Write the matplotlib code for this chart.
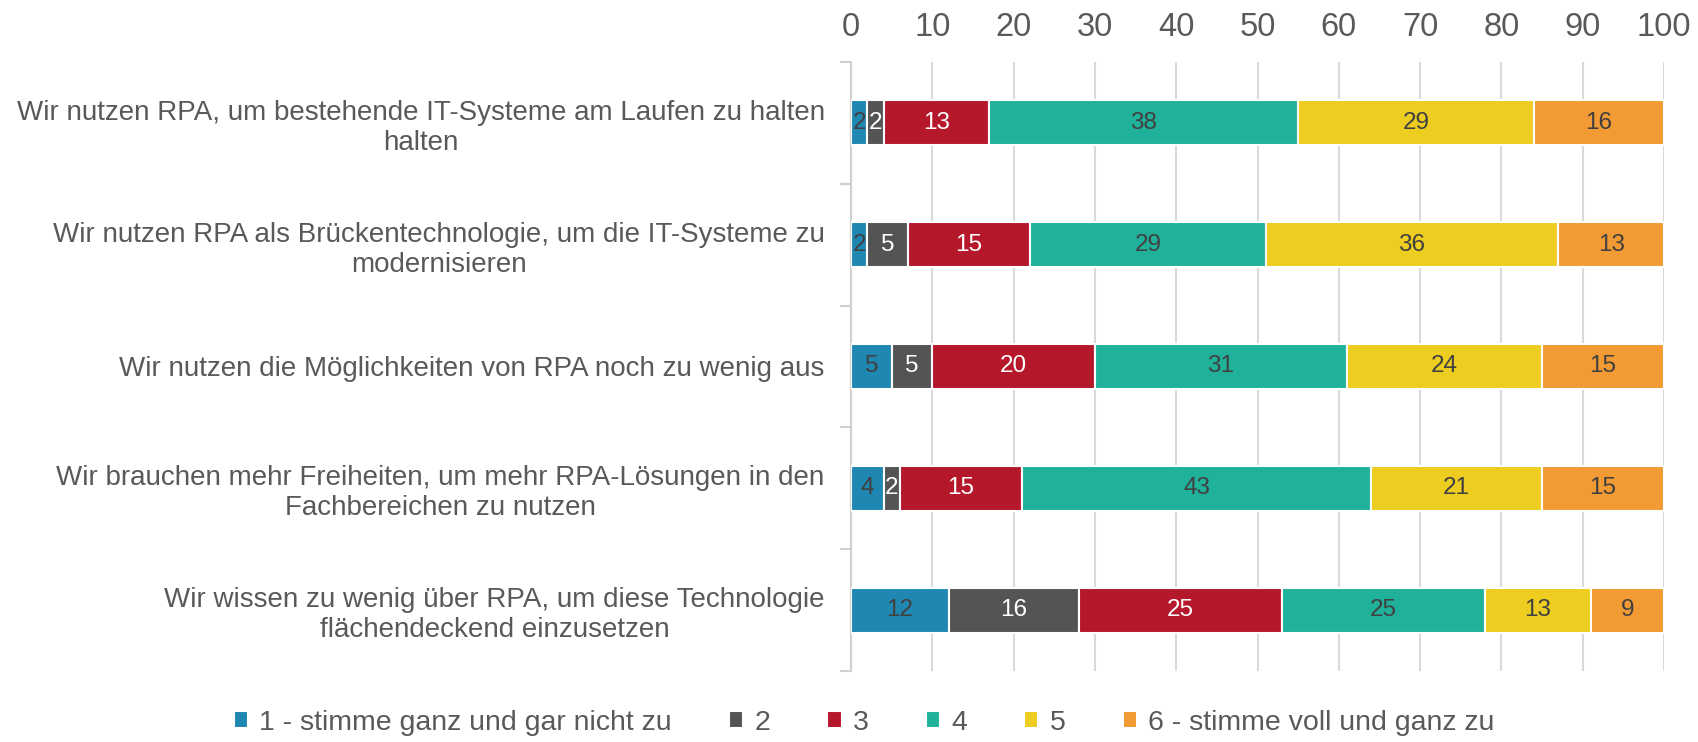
import matplotlib.pyplot as plt
import numpy as np

plt.rcParams['font.family'] = ['Liberation Sans', 'DejaVu Sans']

# Data
statements = [
    "Wir nutzen RPA, um bestehende IT-Systeme am Laufen zu halten\nhalten",
    "Wir nutzen RPA als Brückentechnologie, um die IT-Systeme zu\nmodernisieren",
    "Wir nutzen die Möglichkeiten von RPA noch zu wenig aus",
    "Wir brauchen mehr Freiheiten, um mehr RPA-Lösungen in den\nFachbereichen zu nutzen",
    "Wir wissen zu wenig über RPA, um diese Technologie\nflächendeckend einzusetzen",
]
series_names = ["1 - stimme ganz und gar nicht zu", "2", "3", "4", "5",
                "6 - stimme voll und ganz zu"]
s1 = [2, 2, 5, 4, 12]
s2 = [2, 5, 5, 2, 16]
s3 = [13, 15, 20, 15, 25]
s4 = [38, 29, 31, 43, 25]
s5 = [29, 36, 24, 21, 13]
s6 = [16, 13, 15, 15, 9]
values = [s1, s2, s3, s4, s5, s6]

colors = ["#1F88B2", "#545454", "#B5172B", "#20B19A", "#EDCD20", "#F29A33"]
text_colors = ["#404040", "white", "white", "#404040", "#404040", "#404040"]

fig = plt.figure(figsize=(16.98, 7.42), dpi=100)
ax = fig.add_axes([0.5012, 0.0957, 0.4788, 0.8208])

y = np.arange(len(statements))
left = np.zeros(len(statements))
for vals, name, c, tc in zip(values, series_names, colors, text_colors):
    vals = np.array(vals, dtype=float)
    bars = ax.barh(y, vals, left=left, height=0.37, color=c, edgecolor='white',
                   linewidth=1.5, label=name, zorder=3)
    for b, v in zip(bars, vals):
        ax.text(b.get_x() + b.get_width() / 2, b.get_y() + b.get_height() / 2,
                f"{int(v)}", ha='center', va='center', fontsize=17.5, color=tc,
                zorder=4)
    left += vals

ax.set_xlim(0, 100)
ax.set_ylim(len(statements) - 0.5, -0.5)
ax.xaxis.tick_top()
ax.set_xticks(np.arange(0, 101, 10))
ax.tick_params(axis='x', length=0, labelsize=23.5, labelcolor='#595959', pad=14)
ax.grid(axis='x', color='#D9D9D9', linewidth=1.5, zorder=0)

ax.set_yticks(y)
ax.set_yticklabels(statements, ha='right', multialignment='center',
                   fontsize=20, color='#595959', linespacing=1.2)
ax.tick_params(axis='y', length=0, pad=19)
ax.set_yticks(np.arange(-0.5, len(statements)), minor=True)
ax.tick_params(axis='y', which='minor', length=8, color='#D0D0D0', width=1.5)

for s in ['top', 'right', 'bottom']:
    ax.spines[s].set_visible(False)
ax.spines['left'].set_color('#D0D0D0')
ax.spines['left'].set_linewidth(1.5)

fig.legend(loc='center', bbox_to_anchor=(0.509, 0.026), ncol=6, frameon=False,
           fontsize=20.5, handlelength=0.5, handleheight=0.5, handletextpad=0.4,
           columnspacing=2.0, labelcolor='#595959')

fig.savefig("out.png", dpi=100)
